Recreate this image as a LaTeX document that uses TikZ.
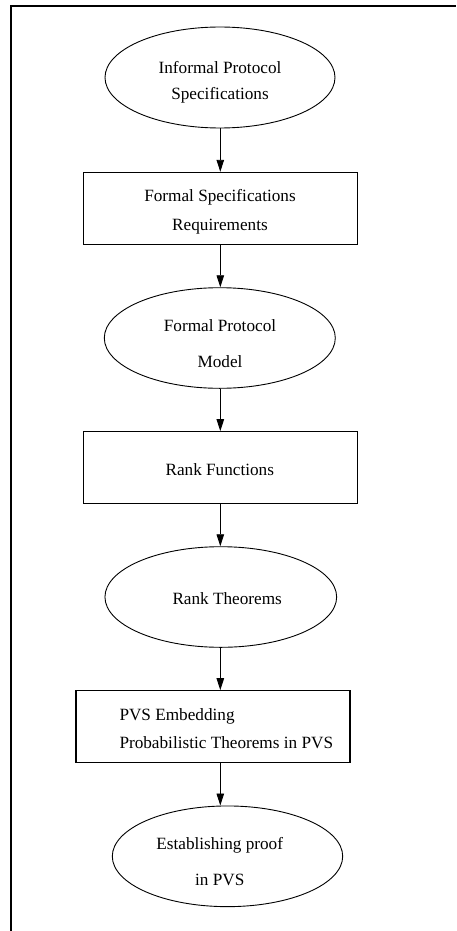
\documentclass[tikz,border=0pt]{standalone}
\usepackage{fontspec}
\setmainfont{Liberation Serif}
\usetikzlibrary{shapes.geometric,arrows.meta}
\begin{document}
\begin{tikzpicture}[x=1pt,y=1pt,
  ell/.style={draw, line width=0.9pt, ellipse, inner sep=0pt},
  boxnode/.style={draw, line width=1.1pt, rectangle, inner sep=0pt},
  txt/.style={anchor=base, inner sep=0pt, font=\fontsize{17.2}{20}\selectfont},
  txtl/.style={anchor=base west, inner sep=0pt, font=\fontsize{17.2}{20}\selectfont},
  arr/.style={line width=0.9pt, -{Triangle[length=12pt,width=7.5pt]}},
  frame/.style={line width=1.2pt}]
\useasboundingbox (0,0) rectangle (456,-931);
% frame
\coordinate (fbl) at (11,-931);
\coordinate (ftl) at (11,-6);
\coordinate (ftr) at (456,-6);
\draw[frame] (fbl) -- (ftl) -- (ftr);
% shapes
\node[ell, minimum width=230pt, minimum height=101pt] (e1) at (220,-77.5) {};
\node[boxnode, minimum width=274pt, minimum height=71.7pt] (b1) at (220.3,-208.2) {};
\node[ell, minimum width=231pt, minimum height=100.6pt] (e2) at (219.8,-338) {};
\node[boxnode, minimum width=274pt, minimum height=71.6pt] (b2) at (220.3,-467.5) {};
\node[ell, minimum width=231.7pt, minimum height=100.6pt] (e3) at (220.8,-597) {};
\node[boxnode, minimum width=274pt, minimum height=71.6pt] (b3) at (213,-726.5) {};
\node[ell, minimum width=230.4pt, minimum height=100.7pt] (e4) at (227.5,-856.3) {};
% texts
\node[txt] (t1a) at (220,-73.3) {Informal Protocol};
\node[txt] (t1b) at (220,-100) {Specifications};
\node[txt] (t2a) at (220,-201.7) {Formal Specifications};
\node[txt] (t2b) at (220,-230) {Requirements};
\node[txt] (t3a) at (220,-331.7) {Formal Protocol};
\node[txt] (t3b) at (220,-367.3) {Model};
\node[txt] (t4) at (219.8,-475) {Rank Functions};
\node[txt] (t5) at (227.2,-604) {Rank Theorems};
\node[txtl] (t6a) at (119.3,-720) {PVS Embedding};
\node[txtl] (t6b) at (119.3,-748.3) {Probabilistic Theorems in PVS};
\node[txt] (t7a) at (219.7,-849.3) {Establishing proof};
\node[txt] (t7b) at (219.8,-885) {in PVS};
% connectors
\coordinate (col) at (220.3,0);
\draw[arr] (e1.south -| col) -- (b1.north -| col);
\draw[arr] (b1.south -| col) -- (e2.north -| col);
\draw[arr] (e2.south -| col) -- (b2.north -| col);
\draw[arr] (b2.south -| col) -- (e3.north -| col);
\draw[arr] (e3.south -| col) -- (b3.north -| col);
\draw[arr] (b3.south -| col) -- (e4.north -| col);
\end{tikzpicture}
\end{document}
